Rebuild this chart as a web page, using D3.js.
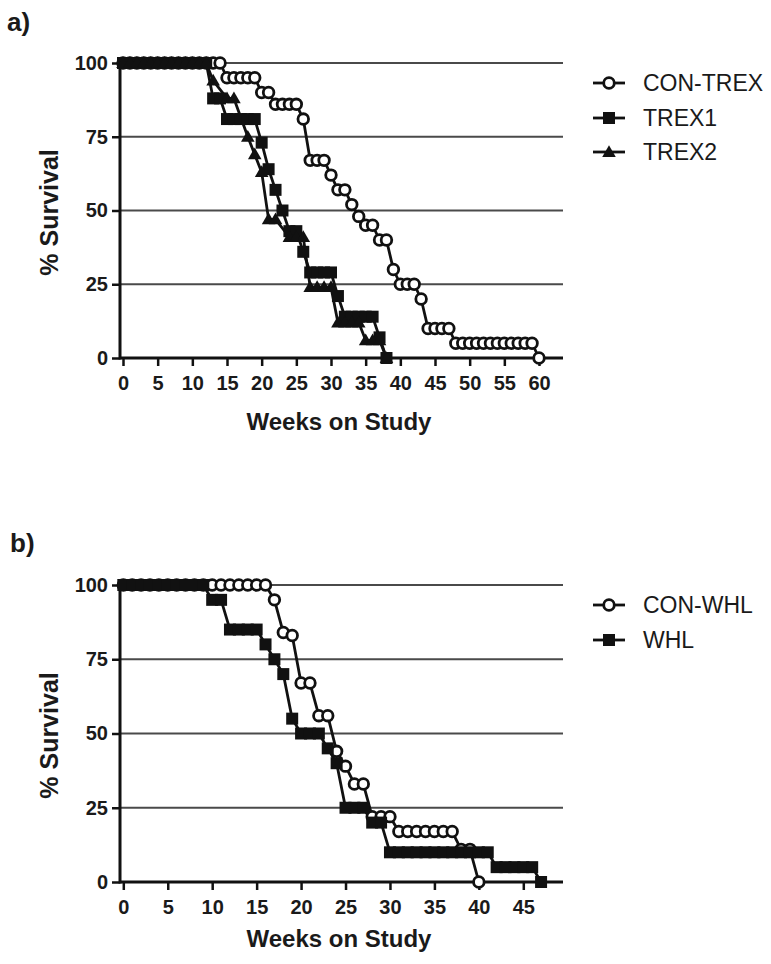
<!DOCTYPE html>
<html>
<head>
<meta charset="utf-8">
<script src="https://cdn.jsdelivr.net/npm/d3@7"></script>
<style>
  html, body { margin: 0; padding: 0; background: #fff; }
  svg { display: block; }
  text { font-family: "Liberation Sans", Arial, Helvetica, sans-serif; fill: #1a1a1a; }
</style>
</head>
<body>
<svg id="chart" width="771" height="964"></svg>
<script>
// ---------- DATA ----------
// Panel a
const weeksConTrex = [0,1,2,3,4,5,6,7,8,9,10,11,12,13,14,15,16,17,18,19,20,21,22,23,24,25,26,27,28,29,30,31,32,33,34,35,36,37,38,39,40,41,42,43,44,45,46,47,48,49,50,51,52,53,54,55,56,57,58,59,60];
const survConTrex  = [100,100,100,100,100,100,100,100,100,100,100,100,100,100,100,95,95,95,95,95,90,90,86,86,86,86,81,67,67,67,62,57,57,52,48,45,45,40,40,30,25,25,25,20,10,10,10,10,5,5,5,5,5,5,5,5,5,5,5,5,0];

const weeksTrex1 = [0,1,2,3,4,5,6,7,8,9,10,11,12,13,14,15,16,17,18,19,20,21,22,23,24,25,26,27,28,29,30,31,32,33,34,35,36,37,38];
const survTrex1  = [100,100,100,100,100,100,100,100,100,100,100,100,100,88,88,81,81,81,81,81,73,64,57,50,43,43,36,29,29,29,29,21,14,14,14,14,14,7,0];

const weeksTrex2 = [0,1,2,3,4,5,6,7,8,9,10,11,12,13,15,16,18,19,20,21,22,24,25,26,27,28,29,30,31,32,33,34,35,36,37,38];
const survTrex2  = [100,100,100,100,100,100,100,100,100,100,100,100,100,94,88,88,75,69,63,47,47,41,41,41,24,24,24,24,12,12,12,12,6,6,6,0];

// Panel b
const weeksConWhl = [0,1,2,3,4,5,6,7,8,9,10,11,12,13,14,15,16,17,18,19,20,21,22,23,24,25,26,27,28,29,30,31,32,33,34,35,36,37,38,39,40];
const survConWhl  = [100,100,100,100,100,100,100,100,100,100,100,100,100,100,100,100,100,95,84,83,67,67,56,56,44,39,33,33,22,22,22,17,17,17,17,17,17,17,11,11,0];

const weeksWhl = [0,1,2,3,4,5,6,7,8,9,10,11,12,13,14,15,16,17,18,19,20,21,22,23,24,25,26,27,28,29,30,31,32,33,34,35,36,37,38,39,40,41,42,43,44,45,46,47];
const survWhl  = [100,100,100,100,100,100,100,100,100,100,95,95,85,85,85,85,80,75,70,55,50,50,50,45,40,25,25,25,20,20,10,10,10,10,10,10,10,10,10,10,10,10,5,5,5,5,5,0];

const yTicks = [0, 25, 50, 75, 100];
const xTicksA = [0,5,10,15,20,25,30,35,40,45,50,55,60];
const xTicksB = [0,5,10,15,20,25,30,35,40,45];
const legendA = ["CON-TREX", "TREX1", "TREX2"];
const legendB = ["CON-WHL", "WHL"];
const xTitle = "Weeks on Study";
const yTitle = "% Survival";

// ---------- DRAW ----------
const svg = d3.select("#chart");

function zip(ws, vs) { return ws.map((w, i) => ({ w, v: vs[i] })); }

function drawMarker(g, type, cx, cy) {
  if (type === "circle") {
    g.append("circle").attr("cx", cx).attr("cy", cy).attr("r", 5.3)
      .attr("fill", "#fff").attr("stroke", "#111").attr("stroke-width", 2.8);
  } else if (type === "square") {
    g.append("path").attr("transform", `translate(${cx},${cy})`)
      .attr("d", d3.symbol(d3.symbolSquare, 144)()).attr("fill", "#111");
  } else {
    g.append("path").attr("transform", `translate(${cx},${cy + 1})`)
      .attr("d", d3.symbol(d3.symbolTriangle, 80)()).attr("fill", "#111");
  }
}

function drawPanel(cfg) {
  const g = svg.append("g");
  const x = d3.scaleLinear().domain([0, cfg.xMax]).range([cfg.x0, cfg.x1]);
  const y = d3.scaleLinear().domain([0, 100]).range([cfg.y0, cfg.y1]);
  const axisLeftX = 120, axisRightX = 563;

  // gridlines
  g.selectAll(".grid").data(yTicks.filter(t => t > 0)).join("line")
    .attr("x1", axisLeftX).attr("x2", axisRightX)
    .attr("y1", d => y(d)).attr("y2", d => y(d))
    .attr("stroke", "#4a4a4a").attr("stroke-width", 2);

  // y axis
  const ya = g.append("g").attr("transform", `translate(${axisLeftX},0)`)
    .call(d3.axisLeft(y).tickValues(yTicks).tickSize(8).tickPadding(4));
  ya.select(".domain").remove();
  ya.selectAll(".tick line").attr("stroke", "#111").attr("stroke-width", 2.5);
  ya.selectAll(".tick text").attr("font-size", 20).attr("font-weight", "bold")
    .attr("font-family", "Liberation Sans, Arial, sans-serif").attr("fill", "#1a1a1a");

  // x axis
  const xa = g.append("g").attr("transform", `translate(0,${cfg.y0})`)
    .call(d3.axisBottom(x).tickValues(cfg.xTicks).tickSize(8).tickPadding(10));
  xa.select(".domain").remove();
  xa.selectAll(".tick line").attr("stroke", "#111").attr("stroke-width", 2.5);
  xa.selectAll(".tick text").attr("font-size", 20).attr("font-weight", "bold")
    .attr("font-family", "Liberation Sans, Arial, sans-serif").attr("fill", "#1a1a1a");

  // axis lines
  g.append("line").attr("x1", axisLeftX).attr("x2", axisLeftX)
    .attr("y1", cfg.y0 + 1.5).attr("y2", cfg.y1 - 1)
    .attr("stroke", "#111").attr("stroke-width", 3);
  g.append("line").attr("x1", axisLeftX).attr("x2", axisRightX)
    .attr("y1", cfg.y0).attr("y2", cfg.y0)
    .attr("stroke", "#111").attr("stroke-width", 3);

  // series lines, then markers (open circles beneath filled markers)
  const line = d3.line().x(d => x(d.w)).y(d => y(d.v));
  cfg.series.forEach(s => {
    g.append("path").datum(zip(s.weeks, s.surv)).attr("d", line)
      .attr("fill", "none").attr("stroke", "#111").attr("stroke-width", 2.8)
      .attr("stroke-linejoin", "round");
  });
  cfg.series.forEach(s => {
    const mg = g.append("g");
    zip(s.weeks, s.surv).forEach(d => drawMarker(mg, s.marker, x(d.w), y(d.v)));
  });

  // axis titles
  g.append("text").attr("x", 339).attr("y", cfg.xTitleY).attr("text-anchor", "middle")
    .attr("font-size", 24).attr("font-weight", "bold").text(xTitle);
  g.append("text").attr("transform", `translate(58,${(cfg.y0 + cfg.y1) / 2 + 2}) rotate(-90)`)
    .attr("text-anchor", "middle").attr("font-size", 25).attr("font-weight", "bold").text(yTitle);

  // panel label
  g.append("text").attr("x", cfg.labelX).attr("y", cfg.labelY)
    .attr("font-size", 26).attr("font-weight", "bold").text(cfg.label);

  // legend
  cfg.legend.forEach((name, i) => {
    const ly = cfg.legendY[i];
    const lg = g.append("g");
    lg.append("line").attr("x1", 593).attr("x2", 625).attr("y1", ly).attr("y2", ly)
      .attr("stroke", "#111").attr("stroke-width", 2.8);
    drawMarker(lg, cfg.series[i].marker, 609, ly);
    lg.append("text").attr("x", 643).attr("y", ly).attr("dy", "0.36em")
      .attr("font-size", 23).text(name);
  });
}

drawPanel({
  xMax: 60, x0: 123, x1: 539, y0: 358, y1: 63, xTicks: xTicksA,
  xTitleY: 430, label: "a)", labelX: 7, labelY: 31,
  legend: legendA, legendY: [83, 118, 152],
  series: [
    { weeks: weeksConTrex, surv: survConTrex, marker: "circle" },
    { weeks: weeksTrex1, surv: survTrex1, marker: "square" },
    { weeks: weeksTrex2, surv: survTrex2, marker: "triangle" }
  ]
});

drawPanel({
  xMax: 45, x0: 123.3, x1: 523.3, y0: 882, y1: 585, xTicks: xTicksB,
  xTitleY: 947, label: "b)", labelX: 10, labelY: 552,
  legend: legendB, legendY: [605, 640],
  series: [
    { weeks: weeksConWhl, surv: survConWhl, marker: "circle" },
    { weeks: weeksWhl, surv: survWhl, marker: "square" }
  ]
});
</script>
</body>
</html>
